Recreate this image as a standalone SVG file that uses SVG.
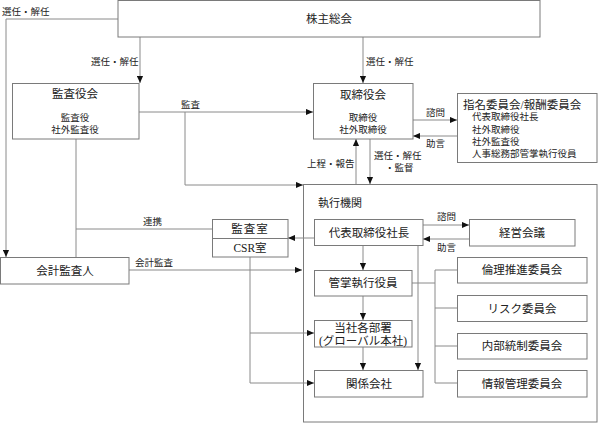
<svg xmlns="http://www.w3.org/2000/svg" width="598" height="424" viewBox="0 0 598 424">
<style>
text{font-family:"Liberation Serif","Noto Sans CJK JP",serif;fill:#222;dominant-baseline:central}
.box{fill:#fff;stroke:#7a7a7a;stroke-width:1}
.frame{fill:none;stroke:#7a7a7a;stroke-width:1}
.t{font-size:11.5px;text-anchor:middle}
.s{font-size:9.5px}
.sc{font-size:9.5px;text-anchor:middle}
.ln{fill:none;stroke:#8a8a8a;stroke-width:1}
.ar{marker-end:url(#ah)}
</style>
<defs>
<marker id="ah" viewBox="0 0 8 8" refX="8" refY="4" markerWidth="7" markerHeight="7" markerUnits="userSpaceOnUse" orient="auto">
<path d="M0,0.5 L8,4 L0,7.5 Z" fill="#111"/>
</marker>
</defs>
<rect x="0" y="0" width="598" height="424" fill="#fff"/>

<g id="executive">
<rect class="frame" x="303.5" y="184.5" width="293.5" height="237.5"/>
<text x="318" y="203" style="font-size:11px">執行機関</text>
</g>

<g id="connectors">
<polyline class="ln ar" points="118,19 6,19 6,257"/>
<line class="ln ar" x1="140" y1="37" x2="140" y2="83"/>
<line class="ln ar" x1="363" y1="37" x2="363" y2="83"/>
<line class="ln ar" x1="139" y1="112" x2="313" y2="112"/>
<polyline class="ln ar" points="185,112 185,185 303,185"/>
<line class="ln ar" x1="413" y1="120" x2="457" y2="120"/>
<line class="ln ar" x1="457" y1="136" x2="413" y2="136"/>
<line class="ln ar" x1="356" y1="184" x2="356" y2="139"/>
<line class="ln ar" x1="370" y1="139" x2="370" y2="184"/>
<line class="ln" x1="76" y1="139" x2="76" y2="257"/>
<line class="ln" x1="76" y1="229" x2="212" y2="229"/>
<line class="ln ar" x1="129" y1="270" x2="302" y2="270"/>
<line class="ln ar" x1="314" y1="238" x2="288" y2="238"/>
<line class="ln ar" x1="423" y1="225" x2="469" y2="225"/>
<line class="ln ar" x1="469" y1="239" x2="423" y2="239"/>
<line class="ln ar" x1="363" y1="245" x2="363" y2="270"/>
<line class="ln ar" x1="363" y1="296" x2="363" y2="320"/>
<line class="ln ar" x1="363" y1="347" x2="363" y2="370"/>
<line class="ln ar" x1="418" y1="245" x2="418" y2="370"/>
<polyline class="ln ar" points="250,257 250,383 314,383"/>
<line class="ln ar" x1="250" y1="333" x2="314" y2="333"/>
<line class="ln" x1="412" y1="283" x2="435" y2="283"/>
<line class="ln" x1="435" y1="270" x2="435" y2="383"/>
<line class="ln" x1="435" y1="270" x2="457" y2="270"/>
<line class="ln" x1="435" y1="308" x2="457" y2="308"/>
<line class="ln" x1="435" y1="346" x2="457" y2="346"/>
<line class="ln" x1="435" y1="383" x2="457" y2="383"/>
<text class="s" x="2" y="12">選任・解任</text>
<text class="s" x="91" y="62">選任・解任</text>
<text class="s" x="366" y="62">選任・解任</text>
<text class="s" x="181" y="105">監査</text>
<text class="s" x="426" y="113">諮問</text>
<text class="s" x="426" y="144">助言</text>
<text class="s" x="307" y="164">上程・報告</text>
<text class="s" x="374" y="156">選任・解任</text>
<text class="s" x="385" y="168">・監督</text>
<text class="s" x="437" y="217">諮問</text>
<text class="s" x="437" y="248">助言</text>
<text class="s" x="143" y="222">連携</text>
<text class="s" x="135" y="263">会計監査</text>
</g>

<g id="shareholders">
<rect class="box" x="118" y="0.5" width="422" height="36.5"/>
<text class="t" x="329" y="19">株主総会</text>
</g>

<g id="auditboard">
<rect class="box" x="12.5" y="83.5" width="126.5" height="55.5"/>
<text class="t" x="75" y="94">監査役会</text>
<text class="sc" x="75" y="118">監査役</text>
<text class="sc" x="75" y="130">社外監査役</text>
</g>

<g id="board">
<rect class="box" x="313.5" y="83.5" width="99.5" height="55.5"/>
<text class="t" x="363" y="95">取締役会</text>
<text class="sc" x="363" y="118">取締役</text>
<text class="sc" x="363" y="130">社外取締役</text>
</g>

<g id="nomination">
<rect class="box" x="457.5" y="93.5" width="139.5" height="69"/>
<text x="463" y="105" style="font-size:11.5px">指名委員会/報酬委員会</text>
<text class="s" x="472" y="117">代表取締役社長</text>
<text class="s" x="472" y="129.5">社外取締役</text>
<text class="s" x="472" y="141.5">社外監査役</text>
<text class="s" x="472" y="153.5">人事総務部管掌執行役員</text>
</g>

<g id="president">
<rect class="box" x="314.5" y="219.5" width="108.5" height="26"/>
<text class="t" x="369" y="233">代表取締役社長</text>
</g>

<g id="mgmtmeeting">
<rect class="box" x="469.5" y="219.5" width="105.5" height="26.5"/>
<text class="t" x="522" y="233">経営会議</text>
</g>

<g id="auditoffice">
<rect class="box" x="212.5" y="219.5" width="75.5" height="37.5"/>
<line class="box" x1="212.5" y1="238.5" x2="288" y2="238.5"/>
<text class="t" x="250" y="229" style="letter-spacing:1px">監査室</text>
<text class="t" x="250" y="248">CSR室</text>
</g>

<g id="accountant">
<rect class="box" x="0.5" y="257.5" width="128.5" height="26.5"/>
<text class="t" x="65" y="271">会計監査人</text>
</g>

<g id="officers">
<rect class="box" x="314.5" y="270.5" width="97.5" height="25.5"/>
<text class="t" x="363" y="283">管掌執行役員</text>
</g>

<g id="departments">
<rect class="box" x="314.5" y="320.5" width="97.5" height="26.5"/>
<text class="t" x="363" y="328">当社各部署</text>
<text class="t" x="363" y="341">(グローバル本社)</text>
</g>

<g id="affiliates">
<rect class="box" x="314.5" y="370.5" width="108.5" height="26.5"/>
<text class="t" x="369" y="383.5">関係会社</text>
</g>

<g id="ethics">
<rect class="box" x="457.5" y="257.5" width="129.5" height="25.5"/>
<text class="t" x="522" y="270">倫理推進委員会</text>
</g>
<g id="risk">
<rect class="box" x="457.5" y="295.5" width="129.5" height="26"/>
<text class="t" x="522" y="308.5">リスク委員会</text>
</g>
<g id="internalcontrol">
<rect class="box" x="457.5" y="333.5" width="129.5" height="25.5"/>
<text class="t" x="522" y="346">内部統制委員会</text>
</g>
<g id="infomgmt">
<rect class="box" x="457.5" y="370.5" width="129.5" height="26.5"/>
<text class="t" x="522" y="383.5">情報管理委員会</text>
</g>
</svg>
